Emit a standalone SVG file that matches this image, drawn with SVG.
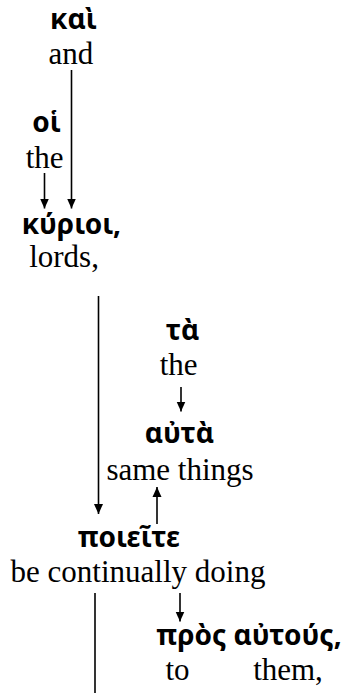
<svg xmlns="http://www.w3.org/2000/svg" width="350" height="693" viewBox="0 0 350 693">
<style>
.gk{font-family:"Noto Sans","DejaVu Sans",sans-serif;font-weight:bold;font-size:28px;fill:#000;text-anchor:middle}
.en{font-family:"Liberation Serif","Times New Roman",serif;font-size:31px;fill:#000;text-anchor:middle}
.c line{stroke:#000;stroke-width:1.6}
</style>
<defs>
<marker id="ah" markerUnits="userSpaceOnUse" markerWidth="10" markerHeight="10" viewBox="0 0 10 10" refX="10" refY="5" orient="auto">
<path d="M0,0.5 L10,5 L0,9.5 Z" fill="#000"/>
</marker>
</defs>
<rect width="350" height="693" fill="#fff"/>
<g class="c" id="connectors">
<line x1="71.5" y1="70" x2="71.5" y2="208.5" marker-end="url(#ah)"/>
<line x1="44.5" y1="173" x2="44.5" y2="208.5" marker-end="url(#ah)"/>
<line x1="98.5" y1="296" x2="98.5" y2="514" marker-end="url(#ah)"/>
<line x1="181" y1="387" x2="181" y2="411.5" marker-end="url(#ah)"/>
<line x1="157" y1="524" x2="157" y2="487" marker-end="url(#ah)"/>
<line x1="180" y1="593" x2="180" y2="621.5" marker-end="url(#ah)"/>
<line x1="95" y1="593" x2="95" y2="693"/>
</g>
<g id="kai"><text class="gk" x="73.5" y="29">καὶ</text><text class="en" x="71" y="64">and</text></g>
<g id="hoi"><text class="gk" x="46.5" y="131.5">οἱ</text><text class="en" x="44.7" y="168">the</text></g>
<g id="kurioi"><text class="gk" x="71.3" y="234">κύριοι,</text><text class="en" x="64" y="267">lords,</text></g>
<g id="ta"><text class="gk" x="182.5" y="340">τὰ</text><text class="en" x="178.7" y="375">the</text></g>
<g id="auta"><text class="gk" x="179.5" y="443">αὐτὰ</text><text class="en" x="180" y="480">same things</text></g>
<g id="poieite"><text class="gk" x="129" y="546.5">ποιεῖτε</text><text class="en" x="138" y="581.5">be continually doing</text></g>
<g id="pros_autous"><text class="gk" x="249" y="645">πρὸς αὐτούς,</text><text class="en" x="177.5" y="680">to</text><text class="en" x="288" y="680">them,</text></g>
</svg>
